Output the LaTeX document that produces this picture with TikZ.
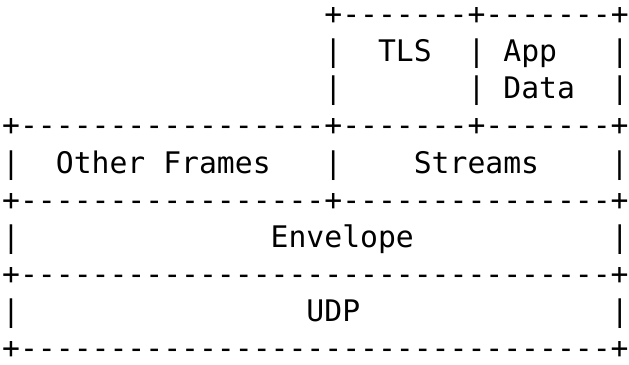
\documentclass[tikz,border=0pt]{standalone}
\usepackage{fontspec}
\setmonofont{DejaVu Sans Mono}[Ligatures=TeXOff]
\usepackage{tikz}
\usetikzlibrary{positioning}
\tikzset{
  asciirow/.style={anchor=base west,inner sep=0pt,
    font=\ttfamily\fontsize{29.73pt}{38pt}\selectfont},
}

\begin{document}
\begin{tikzpicture}[x=17.9pt,y=-37.15pt]
\useasboundingbox (-0.1117,-0.6595) rectangle (35.028,9.1655);
\node[asciirow] (tlsedge) at (18,0) {+-------+-------+};
\node[asciirow] (tlsrow)  at (18,1) {|~~TLS~~|~App~~~|};
\node[asciirow] (datarow) at (18,2) {|~~~~~~~|~Data~~|};
\node[asciirow] (frmedge) at (0,3) {+-----------------+-------+-------+};
\node[asciirow] (frmrow)  at (0,4) {|~~Other~Frames~~~|~~~~Streams~~~~|};
\node[asciirow] (envedge) at (0,5) {+-----------------+---------------+};
\node[asciirow] (envrow)  at (0,6) {|~~~~~~~~~~~~~~Envelope~~~~~~~~~~~|};
\node[asciirow] (udpedge) at (0,7) {+---------------------------------+};
\node[asciirow] (udprow)  at (0,8) {|~~~~~~~~~~~~~~~~UDP~~~~~~~~~~~~~~|};
\node[asciirow] (botedge) at (0,9) {+---------------------------------+};
\end{tikzpicture}
\end{document}
